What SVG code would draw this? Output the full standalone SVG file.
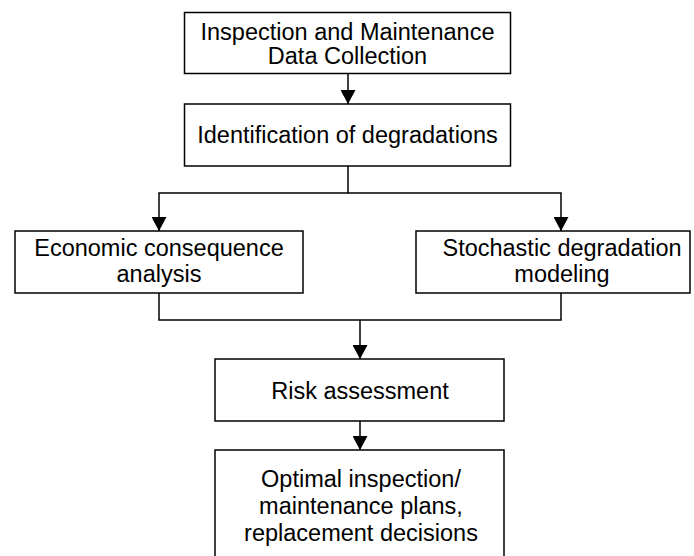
<svg xmlns="http://www.w3.org/2000/svg" width="694" height="556" viewBox="0 0 694 556">
<defs>
<style>
.box{fill:#fff;stroke:#000;stroke-width:1.5}
.lbl{font-family:"Liberation Sans",Arial,sans-serif;font-size:23.5px;fill:#000;text-anchor:middle}
.con{fill:none;stroke:#000;stroke-width:1.5}
</style>
<marker id="arr" viewBox="0 0 14 15" markerWidth="14" markerHeight="15" refX="14" refY="7.5" markerUnits="userSpaceOnUse" orient="auto">
<path d="M0,0 L14,7.5 L0,15 z" fill="#000"/>
</marker>
</defs>
<rect width="694" height="556" fill="#fff"/>
<g id="connectors">
<path class="con" d="M348,73.5 V104" marker-end="url(#arr)"/>
<path class="con" d="M348,166 V193 H159 V231" marker-end="url(#arr)"/>
<path class="con" d="M348,193 H561 V231" marker-end="url(#arr)"/>
<path class="con" d="M159,293 V320 H561 V293"/>
<path class="con" d="M360,320 V359" marker-end="url(#arr)"/>
<path class="con" d="M360,421 V450" marker-end="url(#arr)"/>
</g>
<g id="data-collection">
<rect class="box" x="184.5" y="12.5" width="326" height="61"/>
<text class="lbl" x="347.5" y="39.5">Inspection and Maintenance</text>
<text class="lbl" x="347.5" y="64">Data Collection</text>
</g>
<g id="identification">
<rect class="box" x="184.5" y="104" width="326" height="62"/>
<text class="lbl" x="347.5" y="143">Identification of degradations</text>
</g>
<g id="economic">
<rect class="box" x="15" y="231" width="288" height="62"/>
<text class="lbl" x="159" y="256">Economic consequence</text>
<text class="lbl" x="159" y="281.5">analysis</text>
</g>
<g id="stochastic">
<rect class="box" x="416" y="231" width="274" height="62"/>
<text class="lbl" x="562" y="256">Stochastic degradation</text>
<text class="lbl" x="562" y="281.5">modeling</text>
</g>
<g id="risk">
<rect class="box" x="215" y="359" width="289" height="62"/>
<text class="lbl" x="360" y="399">Risk assessment</text>
</g>
<g id="optimal">
<rect class="box" x="215" y="450" width="289" height="120"/>
<text class="lbl" x="361" y="487">Optimal inspection/</text>
<text class="lbl" x="361" y="514">maintenance plans,</text>
<text class="lbl" x="361" y="541">replacement decisions</text>
</g>
</svg>
